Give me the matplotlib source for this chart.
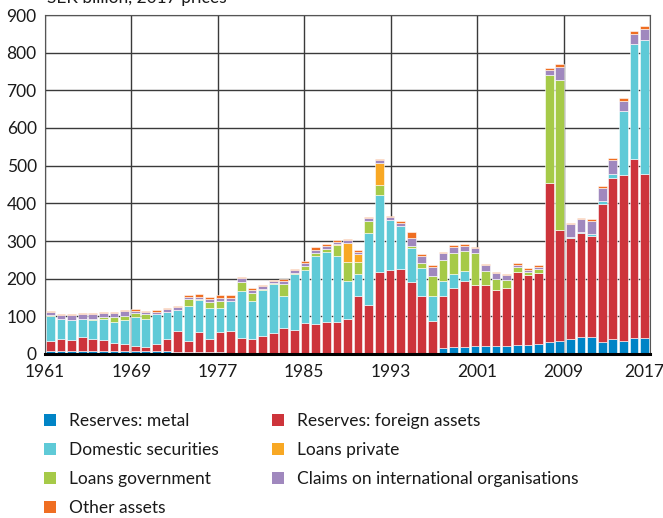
import numpy as np
import matplotlib
matplotlib.use("Agg")
import matplotlib.pyplot as plt
from matplotlib.patches import Patch
from matplotlib.transforms import ScaledTranslation

plt.rcParams['font.family'] = ['Lato', 'DejaVu Sans']

years = list(range(1961, 2018))
tick_years = [1961, 1969, 1977, 1985, 1993, 2001, 2009, 2017]
y_ticks = [0, 100, 200, 300, 400, 500, 600, 700, 800, 900]

reserves_metal = [9, 9, 9, 9, 9, 9, 9, 8, 8, 7, 7, 7, 6, 4, 4, 4, 4, 2, 2, 2,
                  2, 2, 2, 2, 2, 2, 2, 2, 2, 2, 2, 2, 2, 2, 2, 2, 2, 15, 18, 18,
                  20, 20, 20, 20, 24, 24, 27, 31, 34, 40, 44, 44, 31, 39, 35, 43, 43]
reserves_foreign = [26, 31, 28, 35, 31, 28, 19, 19, 13, 11, 19, 33, 56, 31, 55, 36, 55, 60, 41, 37,
                    47, 53, 66, 62, 80, 78, 84, 84, 92, 151, 129, 216, 220, 223, 189, 151, 85, 139, 156, 176,
                    163, 162, 151, 156, 195, 186, 188, 422, 294, 269, 278, 268, 367, 427, 439, 476, 436]
domestic_securities = [67, 52, 52, 49, 49, 57, 56, 64, 76, 76, 80, 71, 54, 93, 84, 82, 63, 78, 124, 101,
                       120, 130, 85, 148, 140, 180, 186, 174, 100, 59, 189, 204, 133, 115, 91, 75, 66, 40, 38, 27,
                       0, 0, 0, 0, 0, 0, 0, 0, 0, 1, 1, 7, 9, 13, 170, 304, 355]
loans_government = [1, 1, 2, 1, 3, 3, 14, 9, 11, 11, 1, 1, 1, 19, 2, 17, 19, 2, 24, 23,
                    3, 3, 34, 3, 12, 8, 8, 30, 49, 31, 34, 26, 2, 1, 4, 13, 53, 56, 56, 53,
                    85, 38, 29, 21, 11, 9, 11, 288, 400, 0, 0, 0, 0, 0, 0, 0, 0]
loans_private = [0, 0, 0, 0, 0, 0, 0, 0, 0, 0, 0, 0, 0, 0, 0, 0, 0, 0, 0, 0,
                 0, 0, 0, 0, 0, 0, 0, 1, 53, 23, 0, 59, 0, 0, 0, 0, 0, 0, 0, 0,
                 0, 0, 0, 0, 0, 0, 0, 0, 0, 0, 0, 0, 0, 0, 0, 0, 0]
claims_intl = [9, 10, 12, 11, 13, 12, 11, 13, 7, 6, 5, 8, 7, 5, 6, 6, 9, 6, 10, 7,
               8, 6, 7, 7, 8, 9, 8, 7, 6, 6, 6, 8, 6, 6, 21, 20, 24, 18, 16, 13,
               14, 17, 14, 12, 7, 4, 5, 12, 35, 34, 35, 33, 33, 37, 27, 27, 29]
other_assets = [3, 3, 4, 4, 4, 3, 3, 4, 4, 3, 5, 3, 3, 5, 7, 7, 6, 8, 4, 4,
                3, 3, 4, 4, 5, 7, 4, 4, 3, 3, 4, 4, 4, 6, 17, 5, 5, 3, 5, 4,
                3, 3, 3, 4, 5, 5, 5, 5, 6, 4, 4, 6, 6, 5, 9, 8, 9]

series = [
    ("Reserves: metal", reserves_metal, "#0084C6"),
    ("Reserves: foreign assets", reserves_foreign, "#CD343B"),
    ("Domestic securities", domestic_securities, "#5FCAD7"),
    ("Loans government", loans_government, "#A6CA48"),
    ("Loans private", loans_private, "#F8A824"),
    ("Claims on international organisations", claims_intl, "#A088BE"),
    ("Other assets", other_assets, "#EF6E22"),
]

fig = plt.figure(figsize=(6.63, 5.18), dpi=100)
ax = fig.add_axes([45/663, 1-354/518, 605/663, 339/518])

x = np.arange(len(years))
bottom = np.zeros(len(years))
handles = {}
for name, vals, col in series:
    v = np.array(vals, dtype=float)
    ax.bar(x, v, bottom=bottom, width=0.82, color=col, edgecolor='white', linewidth=0.4, zorder=2)
    bottom += v
    handles[name] = Patch(facecolor=col, edgecolor='none')

n = len(years)
tick_pos = [-0.5 + (t - years[0]) * n / (years[-1] - years[0]) for t in tick_years]
ax.set_xlim(-0.5, n - 0.5)
ax.set_ylim(0, 900)
ax.set_xticks(tick_pos)
ax.set_xticklabels([str(t) for t in tick_years])
ax.set_yticks(y_ticks)
ax.tick_params(axis='both', length=0, labelsize=12.5, colors='#1a1a1a')
ax.tick_params(axis='y', pad=6)
ax.tick_params(axis='x', pad=7)
last = ax.get_xticklabels()[-1]
last.set_transform(last.get_transform() + ScaledTranslation(-6/100, 0, fig.dpi_scale_trans))
ax.set_axisbelow(True)
ax.grid(True, color='#3a3a3a', linewidth=1.0, zorder=0)
for s in ['left', 'top', 'right']:
    ax.spines[s].set_color('#555555')
    ax.spines[s].set_linewidth(0.8)
ax.spines['bottom'].set_color('black')
ax.spines['bottom'].set_linewidth(2.2)
ax.spines['bottom'].set_zorder(5)

fig.text(47/663, 1-3/518, "SEK billion, 2017 prices", fontsize=12.5, color='#1a1a1a', va='baseline', ha='left')

col1 = ["Reserves: metal", "Domestic securities", "Loans government", "Other assets"]
col2 = ["Reserves: foreign assets", "Loans private", "Claims on international organisations"]
common = dict(loc='upper left', frameon=False, fontsize=12.5, handlelength=0.7, handleheight=0.7,
              handletextpad=0.75, labelspacing=0.75, borderpad=0, borderaxespad=0)
leg1 = fig.legend([handles[k] for k in col1], col1, bbox_to_anchor=(44/663, 1-413/518), **common)
leg2 = fig.legend([handles[k] for k in col2], col2, bbox_to_anchor=(272/663, 1-413/518), **common)
for leg in (leg1, leg2):
    for t in leg.get_texts():
        t.set_color('#1a1a1a')

fig.savefig("out.png", dpi=100)
